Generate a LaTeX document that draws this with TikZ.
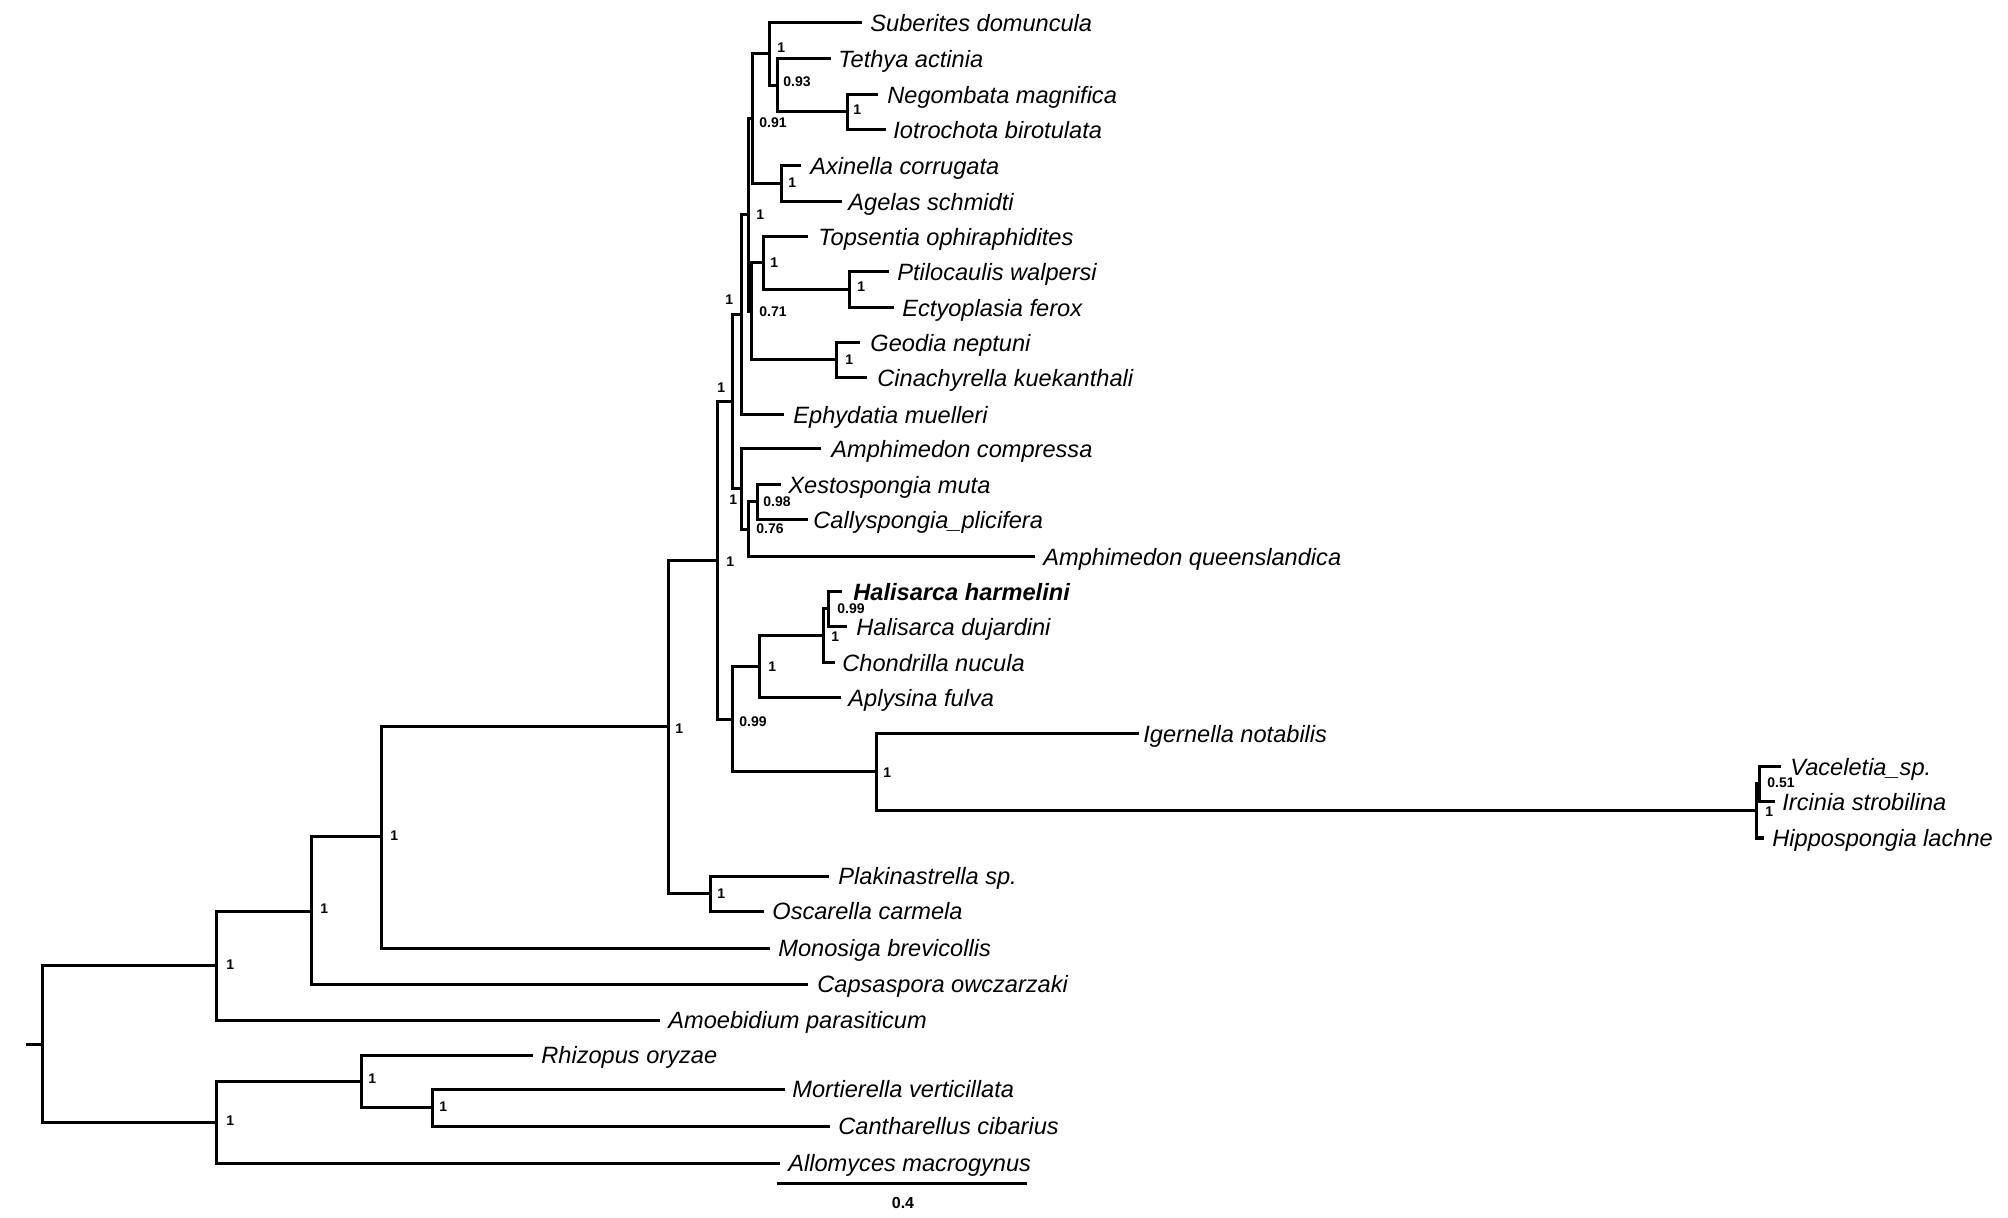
\documentclass[tikz,border=0pt]{standalone}
\usepackage{fontspec}
\setmainfont{Liberation Sans}
\begin{document}
\begin{tikzpicture}[x=0.5pt,y=-0.5pt,
  br/.style={line width=1.5pt, line cap=rect},
  taxon/.style={anchor=base west, inner sep=0pt, font=\fontsize{11.8pt}{12pt}\selectfont\itshape},
  taxonb/.style={taxon, font=\fontsize{11.8pt}{12pt}\selectfont\bfseries\itshape},
  supp/.style={anchor=west, inner sep=0pt, font=\fontsize{7pt}{8pt}\selectfont\bfseries}]
\useasboundingbox (0,0) rectangle (2008,1218);

% ---------- leaf end points and names ----------
\coordinate (e1) at (860,23);   \node[taxon] (t1) at (870,31.5) {Suberites domuncula};
\coordinate (e2) at (829,59);   \node[taxon] (t2) at (838,67.5) {Tethya actinia};
\coordinate (e3) at (876,95);   \node[taxon] (t3) at (887,103.5) {Negombata magnifica};
\coordinate (e4) at (884,130);  \node[taxon] (t4) at (893,138.5) {Iotrochota birotulata};
\coordinate (e5) at (799,166);  \node[taxon] (t5) at (810,174.5) {Axinella corrugata};
\coordinate (e6) at (840,202);  \node[taxon] (t6) at (848,210.5) {Agelas schmidti};
\coordinate (e7) at (806,237);  \node[taxon] (t7) at (818,245.5) {Topsentia ophiraphidites};
\coordinate (e8) at (887,272);  \node[taxon] (t8) at (897,280.5) {Ptilocaulis walpersi};
\coordinate (e9) at (892,308);  \node[taxon] (t9) at (902,316.5) {Ectyoplasia ferox};
\coordinate (e10) at (858,343); \node[taxon] (t10) at (870,351.5) {Geodia neptuni};
\coordinate (e11) at (865,378); \node[taxon] (t11) at (877,386.5) {Cinachyrella kuekanthali};
\coordinate (e12) at (782,415); \node[taxon] (t12) at (793,423.5) {Ephydatia muelleri};
\coordinate (e13) at (819,449); \node[taxon] (t13) at (831,457.5) {Amphimedon compressa};
\coordinate (e14) at (779,485); \node[taxon] (t14) at (788,493.5) {Xestospongia muta};
\coordinate (e15) at (806,520); \node[taxon] (t15) at (813,528.5) {Callyspongia\_plicifera};
\coordinate (e16) at (1033,557);\node[taxon] (t16) at (1043,565.5) {Amphimedon queenslandica};
\coordinate (e17) at (840,592); \node[taxonb] (t17) at (853,600.5) {Halisarca harmelini};
\coordinate (e18) at (845,627); \node[taxon] (t18) at (856,635.5) {Halisarca dujardini};
\coordinate (e19) at (833,663); \node[taxon] (t19) at (842,671.5) {Chondrilla nucula};
\coordinate (e20) at (839,698); \node[taxon] (t20) at (848,706.5) {Aplysina fulva};
\coordinate (e21) at (1137,734);\node[taxon] (t21) at (1143,742.5) {Igernella notabilis};
\coordinate (e22) at (1779,767);\node[taxon] (t22) at (1790,775.5) {Vaceletia\_sp.};
\coordinate (e23) at (1773,802);\node[taxon] (t23) at (1782,810.5) {Ircinia strobilina};
\coordinate (e24) at (1762,838);\node[taxon] (t24) at (1772,846.5) {Hippospongia lachne};
\coordinate (e25) at (827,876); \node[taxon] (t25) at (838,884.5) {Plakinastrella sp.};
\coordinate (e26) at (762,911); \node[taxon] (t26) at (772,919.5) {Oscarella carmela};
\coordinate (e27) at (768,948); \node[taxon] (t27) at (778,956.5) {Monosiga brevicollis};
\coordinate (e28) at (806,984); \node[taxon] (t28) at (817,992.5) {Capsaspora owczarzaki};
\coordinate (e29) at (658,1020);\node[taxon] (t29) at (668,1028.5) {Amoebidium parasiticum};
\coordinate (e30) at (531,1055);\node[taxon] (t30) at (541,1063.5) {Rhizopus oryzae};
\coordinate (e31) at (783,1089);\node[taxon] (t31) at (792,1097.5) {Mortierella verticillata};
\coordinate (e32) at (828,1126);\node[taxon] (t32) at (838,1134.5) {Cantharellus cibarius};
\coordinate (e33) at (778,1163);\node[taxon] (t33) at (788,1171.5) {Allomyces macrogynus};

% ---------- internal nodes ----------
\coordinate (N)   at (847,112);
\coordinate (T)   at (777,86);
\coordinate (S)   at (769,54);
\coordinate (Ax)  at (781,184);
\coordinate (N91) at (752,119);
\coordinate (P)   at (849,290);
\coordinate (T2)  at (763,263);
\coordinate (G2)  at (836,360);
\coordinate (K)   at (751,312);
\coordinate (J)   at (748,215);
\coordinate (F)   at (741,315);
\coordinate (I)   at (757,502);
\coordinate (H)   at (748,530);
\coordinate (G)   at (741,489);
\coordinate (E)   at (732,402);
\coordinate (U)   at (828,609);
\coordinate (R)   at (823,636);
\coordinate (Q)   at (759,667);
\coordinate (V)   at (1759,784);
\coordinate (W)   at (1756,811);
\coordinate (Ig)  at (876,772);
\coordinate (Y)   at (732,720);
\coordinate (D)   at (717,561);
\coordinate (Pk)  at (710,893);
\coordinate (M)   at (668,727);
\coordinate (C)   at (381,837);
\coordinate (B)   at (311,911);
\coordinate (A)   at (216,965);
\coordinate (MC)  at (432,1107);
\coordinate (RZ)  at (361,1081);
\coordinate (FU)  at (216,1122);
\coordinate (Rt)  at (42,1044);
\coordinate (tick) at (27,1044);

% ---------- branches ----------
\draw[br] (e3) -| (N) |- (e4);
\draw[br] (e2) -| (T) |- (N);
\draw[br] (e1) -| (S) |- (T);
\draw[br] (e5) -| (Ax) |- (e6);
\draw[br] (S) -| (N91) |- (Ax);
\draw[br] (e8) -| (P) |- (e9);
\draw[br] (e7) -| (T2) |- (P);
\draw[br] (e10) -| (G2) |- (e11);
\draw[br] (T2) -| (K) |- (G2);
\draw[br] (N91) -| (J) |- (K);
\draw[br] (J) -| (F) |- (e12);
\draw[br] (e14) -| (I) |- (e15);
\draw[br] (I) -| (H) |- (e16);
\draw[br] (e13) -| (G) |- (H);
\draw[br] (F) -| (E) |- (G);
\draw[br] (e17) -| (U) |- (e18);
\draw[br] (U) -| (R) |- (e19);
\draw[br] (R) -| (Q) |- (e20);
\draw[br] (e22) -| (V) |- (e23);
\draw[br] (V) -| (W) |- (e24);
\draw[br] (e21) -| (Ig) |- (W);
\draw[br] (Q) -| (Y) |- (Ig);
\draw[br] (E) -| (D) |- (Y);
\draw[br] (e25) -| (Pk) |- (e26);
\draw[br] (D) -| (M) |- (Pk);
\draw[br] (M) -| (C) |- (e27);
\draw[br] (C) -| (B) |- (e28);
\draw[br] (B) -| (A) |- (e29);
\draw[br] (e31) -| (MC) |- (e32);
\draw[br] (e30) -| (RZ) |- (MC);
\draw[br] (RZ) -| (FU) |- (e33);
\draw[br] (A) -| (Rt) |- (FU);
\draw[br] (tick) -- (Rt);

% ---------- support values ----------
\node[supp] (sS)   at (777,48)   {1};
\node[supp] (sT)   at (783,82)   {0.93};
\node[supp] (sN)   at (853,110)  {1};
\node[supp] (sN91) at (759,123)  {0.91};
\node[supp] (sAx)  at (788,183)  {1};
\node[supp] (sJ)   at (756,215)  {1};
\node[supp] (sT2)  at (770,263)  {1};
\node[supp] (sP)   at (857,287)  {1};
\node[supp] (sK)   at (759,312)  {0.71};
\node[supp] (sG2)  at (845,360)  {1};
\node[supp] (sF)   at (725,300)  {1};
\node[supp] (sE)   at (717,388)  {1};
\node[supp] (sG)   at (729,500)  {1};
\node[supp] (sI)   at (763,502)  {0.98};
\node[supp] (sH)   at (756,529)  {0.76};
\node[supp] (sD)   at (726,562)  {1};
\node[supp] (sU)   at (837,609)  {0.99};
\node[supp] (sR)   at (831,637)  {1};
\node[supp] (sQ)   at (768,667)  {1};
\node[supp] (sY)   at (739,722)  {0.99};
\node[supp] (sIg)  at (883,773)  {1};
\node[supp] (sV)   at (1767,783) {0.51};
\node[supp] (sW)   at (1765,812) {1};
\node[supp] (sPk)  at (717,894)  {1};
\node[supp] (sM)   at (675,729)  {1};
\node[supp] (sC)   at (390,836)  {1};
\node[supp] (sB)   at (320,909)  {1};
\node[supp] (sA)   at (226,965)  {1};
\node[supp] (sFU)  at (226,1121) {1};
\node[supp] (sRZ)  at (368,1079) {1};
\node[supp] (sMC)  at (439,1107) {1};

% ---------- scale bar ----------
\coordinate (sb1) at (778,1183);
\coordinate (sb2) at (1025,1183);
\draw[br] (sb1) -- (sb2);
\node[supp, anchor=center, font=\fontsize{8pt}{9pt}\selectfont\bfseries] (sbl) at (903,1203) {0.4};
\end{tikzpicture}
\end{document}
